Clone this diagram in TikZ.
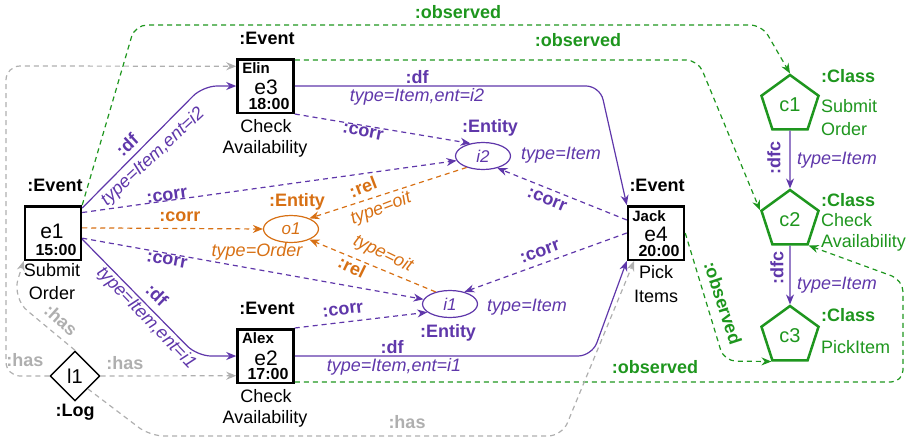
\documentclass[tikz,border=0pt]{standalone}
\usepackage{fontspec}
\setmainfont{Liberation Sans}
\usetikzlibrary{arrows.meta,shapes.geometric}
\definecolor{pur}{RGB}{95,55,170}
\definecolor{org}{RGB}{215,112,20}
\definecolor{grn}{RGB}{30,150,30}
\definecolor{gry}{RGB}{175,175,175}
\begin{document}
\begin{tikzpicture}[x=1pt,y=-1pt,
 txt/.style={inner sep=0pt, font=\fontsize{18}{22}\selectfont},
 btxt/.style={inner sep=0pt, font=\bfseries\fontsize{18}{22}\selectfont},
 itxt/.style={inner sep=0pt, font=\itshape\fontsize{18}{22}\selectfont},
 bignum/.style={inner sep=0pt, font=\fontsize{21}{21}\selectfont},
 timetxt/.style={inner sep=0pt, font=\bfseries\fontsize{16}{16}\selectfont},
 nametxt/.style={inner sep=0pt, font=\bfseries\fontsize{15}{15}\selectfont},
 evbox/.style={draw, line width=2.5pt, minimum width=56pt, minimum height=53.5pt, inner sep=0pt},
 ent/.style={ellipse, line width=1.2pt, minimum width=55pt, minimum height=27pt, inner sep=0pt, font=\itshape\fontsize{17}{20}\selectfont},
 cls/.style={regular polygon, regular polygon sides=5, draw=grn, line width=2.5pt, minimum size=60pt, inner sep=0pt, text=grn, font=\fontsize{20}{24}\selectfont},
 tipa/.style={-{Stealth[length=10pt,width=8pt]}},
 dfl/.style={draw=pur, line width=1.2pt, tipa, rounded corners=14pt},
 corrl/.style={draw=pur, line width=1.2pt, dash pattern=on 5pt off 4pt, tipa},
 rell/.style={draw=org, line width=1.2pt, dash pattern=on 5pt off 4pt, tipa},
 obsl/.style={draw=grn, line width=1.2pt, dash pattern=on 5pt off 4pt, tipa, rounded corners=12pt},
 hasl/.style={draw=gry, line width=1.2pt, dash pattern=on 5pt off 4pt, tipa, rounded corners=14pt}
]
\useasboundingbox (0,0) rectangle (915,442);

% ---- event boxes
\node[evbox] (e1) at (53,233) {};
\node[evbox] (e3) at (265.5,86) {};
\node[evbox] (e2) at (265.5,356) {};
\node[evbox] (e4) at (656,233) {};

\node[bignum] (e1n) at (52,231) {e1};
\node[timetxt] (e1t) at (56,250) {15:00};
\node[nametxt] (e3w) at (256,68) {Elin};
\node[bignum] (e3n) at (266,87) {e3};
\node[timetxt] (e3t) at (269,104) {18:00};
\node[nametxt] (e2w) at (258,338) {Alex};
\node[bignum] (e2n) at (266,358) {e2};
\node[timetxt] (e2t) at (268,374) {17:00};
\node[nametxt] (e4w) at (649,216) {Jack};
\node[bignum] (e4n) at (656,234) {e4};
\node[timetxt] (e4t) at (659,251) {20:00};

\node[btxt] (e1c) at (55,185) {:Event};
\node[btxt] (e3c) at (267,38) {:Event};
\node[btxt] (e2c) at (267,308) {:Event};
\node[btxt] (e4c) at (657,185) {:Event};

\node[txt] (e1a) at (52,270) {Submit};
\node[txt] (e1b) at (52,293) {Order};
\node[txt] (e3a) at (266,126) {Check};
\node[txt] (e3b) at (265,149) {Availability};
\node[txt] (e2a) at (266,396) {Check};
\node[txt] (e2b) at (265,419) {Availability};
\node[txt] (e4a) at (656,272) {Pick};
\node[txt] (e4b) at (656,296) {Items};

% ---- log
\node[diamond, draw, line width=1.4pt, minimum width=50pt, minimum height=50pt, inner sep=0pt, font=\fontsize{20}{20}\selectfont] (l1) at (75,376) {l1};
\node[btxt] (l1c) at (75,412) {:Log};

% ---- entities
\node[ent, draw=org, text=org] (o1) at (291,229) {o1};
\node[ent, draw=pur, text=pur] (i2) at (483,156) {i2};
\node[ent, draw=pur, text=pur] (i1) at (450,304) {i1};
\node[btxt, text=org] (o1c) at (297,202) {:Entity};
\node[itxt, text=org] (o1t) at (257,252) {type=Order};
\node[btxt, text=pur] (i2c) at (490,128) {:Entity};
\node[itxt, text=pur] (i2t) at (561,155) {type=Item};
\node[btxt, text=pur] (i1c) at (448,333) {:Entity};
\node[itxt, text=pur] (i1t) at (527,307) {type=Item};

% ---- classes
\node[cls] (c1) at (790,105) {c1};
\node[cls] (c2) at (790,220) {c2};
\node[cls] (c3) at (790,336) {c3};
\node[btxt, text=grn, anchor=west] (c1c) at (821,76) {:Class};
\node[txt, text=grn, anchor=west] (c1a) at (821,106) {Submit};
\node[txt, text=grn, anchor=west] (c1b) at (821,129) {Order};
\node[btxt, text=grn, anchor=west] (c2c) at (821,200) {:Class};
\node[txt, text=grn, anchor=west] (c2a) at (821,220) {Check};
\node[txt, text=grn, anchor=west] (c2b) at (821,243) {Availability};
\node[btxt, text=grn, anchor=west] (c3c) at (821,315) {:Class};
\node[txt, text=grn, anchor=west] (c3a) at (821,347) {PickItem};

\draw[dfl] (c1.south) -- (c2.north);
\draw[dfl] (c2.south) -- (c3.north);
\node[btxt, text=pur, rotate=90] (dfc1) at (774,158) {:dfc};
\node[itxt, text=pur, anchor=west] (dfc1t) at (797,160) {type=Item};
\node[btxt, text=pur, rotate=90] (dfc2) at (777,268) {:dfc};
\node[itxt, text=pur, anchor=west] (dfc2t) at (797,285) {type=Item};

% ---- df
\draw[dfl] ([yshift=-3pt]e1.north east) -- (203,86) -- (e3.west);
\draw[dfl] (e1.-12) -- (197,356) -- (e2.west);
\draw[dfl] (e3.east) -- (600,86) -- (e4.north west);
\draw[dfl] (e2.east) -- (592,356) -- (e4.south west);
\node[btxt, text=pur, rotate=43] (df1) at (127,145) {:df};
\node[itxt, text=pur, rotate=43] (df1t) at (153,157) {type=Item,ent=i2};
\node[btxt, text=pur, rotate=-44] (df2) at (157,295) {:df};
\node[itxt, text=pur, rotate=-46] (df2t) at (146,318) {type=Item,ent=i1};
\node[btxt, text=pur] (df3) at (417,77) {:df};
\node[itxt, text=pur] (df3t) at (417,97) {type=Item,ent=i2};
\node[btxt, text=pur] (df4) at (392,347) {:df};
\node[itxt, text=pur] (df4t) at (394,367) {type=Item,ent=i1};

% ---- corr
\draw[corrl] (e1.35) -- (i2.190);
\draw[corrl] (e1.-10) -- (i1.170);
\draw[corrl] (e3.south east) -- (i2.135);
\draw[corrl] (e2.north east) -- (i1.200);
\draw[corrl] (e4.156) -- (i2.-40);
\draw[corrl] (e4.west) -- (i1.40);
\node[btxt, text=pur, rotate=8] (co1) at (167,196) {:corr};
\node[btxt, text=pur, rotate=-10] (co2) at (167,260) {:corr};
\node[btxt, text=pur, rotate=-11] (co3) at (363,132) {:corr};
\node[btxt, text=pur, rotate=7] (co4) at (343,310) {:corr};
\node[btxt, text=pur, rotate=-22] (co5) at (547,200) {:corr};
\node[btxt, text=pur, rotate=20] (co6) at (540,252) {:corr};

% ---- rel / orange corr
\draw[rell] (e1.10) -- (o1.west);
\draw[rell] (i2.215) -- (o1.30);
\draw[rell] (i1.140) -- (o1.-30);
\node[btxt, text=org] (oc) at (180,217) {:corr};
\node[btxt, text=org, rotate=21] (r1) at (363,187) {:rel};
\node[itxt, text=org, rotate=21] (r1t) at (381,209) {type=oit};
\node[btxt, text=org, rotate=-26] (r2) at (352,267) {:rel};
\node[itxt, text=org, rotate=-26] (r2t) at (383,254) {type=oit};

% ---- observed
\draw[obsl] (e1.north east) -- (135,25) -- (762,25) -- (c1.north);
\draw[obsl] ([yshift=-2pt]e3.north east) -- (698,60) -- (c2.corner 2);
\draw[obsl] ([yshift=2pt]e2.south east) -- (903,382) -- (903,280) -- (c2.corner 4);
\draw[obsl] (e4.east) -- (724,361) -- (c3.corner 3);
\node[btxt, text=grn] (ob1) at (458,12) {:observed};
\node[btxt, text=grn] (ob2) at (578,40) {:observed};
\node[btxt, text=grn] (ob3) at (655,367) {:observed};
\node[btxt, text=grn, rotate=-72] (ob4) at (723,303) {:observed};

% ---- has
\draw[hasl] (l1.west) -- (6,376) -- (6,66) -- (e3.146);
\draw[hasl] (l1.east) -- (e2.214);
\draw[hasl, rounded corners=20pt] (l1.north) -- (12,298) -- (e1.south west);
\draw[hasl] (l1.south east) -- (150,436) -- (562,436) -- (e4.-128);
\node[btxt, text=gry] (h1) at (25,360) {:has};
\node[btxt, text=gry] (h2) at (125,363) {:has};
\node[btxt, text=gry, rotate=-42] (h3) at (61,320) {:has};
\node[btxt, text=gry] (h4) at (407,422) {:has};
\end{tikzpicture}
\end{document}
